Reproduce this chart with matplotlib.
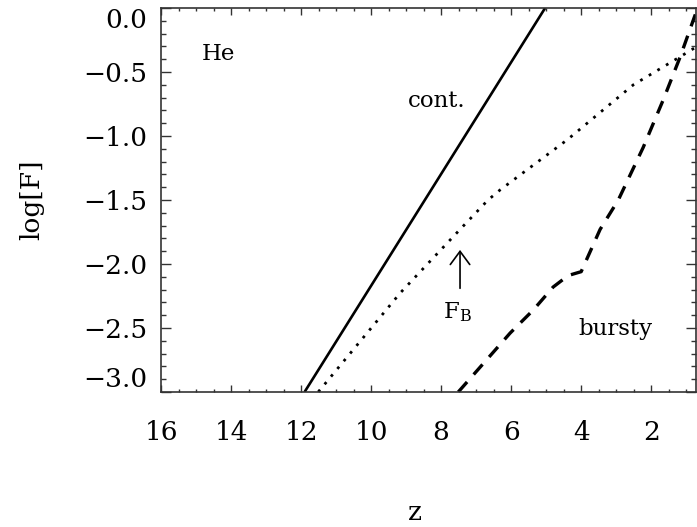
import matplotlib
matplotlib.use("Agg")
import matplotlib.pyplot as plt
from matplotlib.ticker import MultipleLocator

plt.rcParams['font.family'] = 'DejaVu Serif'
plt.rcParams['mathtext.fontset'] = 'dejavuserif'

# continuous star formation
z_cont = [11.9, 5.03]
f_cont = [-3.0, 0.0]

# F_B curve (dotted)
z_fb = [11.51, 9.17, 7.46, 6.66, 6.31, 4.40, 2.51, 1.17, 0.69]
f_fb = [-3.0, -2.227, -1.73, -1.50, -1.42, -1.03, -0.60, -0.38, -0.30]

# bursty star formation (dashed)
z_burst = [7.51, 6.03, 5.37, 4.80, 4.37, 4.00, 3.46, 2.94, 2.23, 1.66, 1.17, 0.74]
f_burst = [-3.0, -2.54, -2.36, -2.18, -2.09, -2.06, -1.73, -1.50, -1.09, -0.72, -0.38, -0.05]

xticks = [16, 14, 12, 10, 8, 6, 4, 2]
yticks = [0.0, -0.5, -1.0, -1.5, -2.0, -2.5, -3.0]

fig = plt.figure(figsize=(6.97, 5.27), dpi=100)
ax = fig.add_axes([0.231, 0.2562, 0.7676, 0.7286])

ax.plot(z_cont, f_cont, color='black', lw=1.9, solid_capstyle='butt')
ax.plot(z_fb, f_fb, color='black', lw=2.0, linestyle=(0, (1, 2.6)))
ax.plot(z_burst, f_burst, color='black', lw=2.4, linestyle=(0, (4, 3)))

ax.set_xlim(16, 0.72)
ax.set_ylim(-3.0, 0.0)
ax.set_xticks(xticks)
ax.set_yticks(yticks)
ax.set_yticklabels([f"{v:.1f}" if v == 0 else f"\u2212{abs(v):.1f}" for v in yticks])
ax.xaxis.set_minor_locator(MultipleLocator(0.5))
ax.yaxis.set_minor_locator(MultipleLocator(0.1))

ax.tick_params(which='both', direction='in', top=True, right=True,
               colors='#333333', labelcolor='black')
ax.tick_params(axis='x', which='major', length=5, width=1.0, pad=20, labelsize=19)
ax.tick_params(axis='x', which='minor', length=2.5, width=1.0)
ax.tick_params(axis='y', which='major', length=7, width=1.0, pad=10, labelsize=19)
ax.tick_params(axis='y', which='minor', length=3.5, width=1.0)
for s in ax.spines.values():
    s.set_color('#333333')
    s.set_linewidth(1.2)

# keep the end labels inside the frame height
ylabels = ax.get_yticklabels()
ylabels[0].set_verticalalignment('top')
ylabels[-1].set_verticalalignment('bottom')

ax.set_xlabel('z', fontsize=19)
ax.xaxis.set_label_coords(0.475, -0.333)
ax.xaxis.label.set_verticalalignment('baseline')
ax.set_ylabel('log[F]', fontsize=19)
ax.yaxis.set_label_coords(-0.241, 0.5)
ax.yaxis.label.set_verticalalignment('center')

# annotations
ax.text(14.83, -0.406, 'He', fontsize=16.5, ha='left', va='baseline')
ax.text(8.14, -0.773, 'cont.', fontsize=16.5, ha='center', va='baseline')
ax.text(3.01, -2.51, 'bursty', fontsize=16.5, ha='center', va='center')
ax.text(7.54, -2.38, r'F$_{\rm B}$', fontsize=16.5, ha='center', va='center')
ax.annotate('', xy=(7.46, -1.89), xytext=(7.46, -2.19),
            arrowprops=dict(arrowstyle='->,head_length=0.95,head_width=0.7',
                            color='black', lw=1.2, shrinkA=0, shrinkB=0))

fig.savefig('out.png', dpi=100)
